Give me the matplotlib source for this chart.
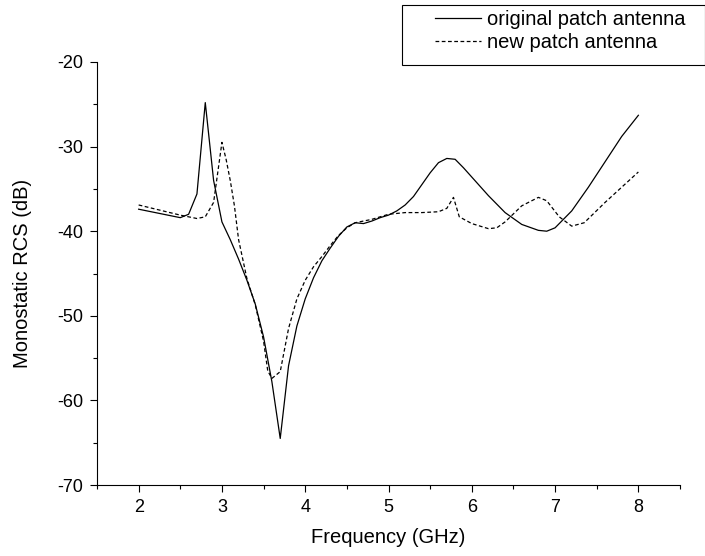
import matplotlib
matplotlib.use('Agg')
import matplotlib.pyplot as plt
from matplotlib.ticker import MultipleLocator
from matplotlib.patches import Rectangle

plt.rcParams['font.family'] = ['Liberation Sans', 'DejaVu Sans']
plt.rcParams['axes.unicode_minus'] = False

# original patch antenna
FREQ_ORIG = [2.0, 2.25, 2.5, 2.6, 2.7, 2.8, 2.9, 3.0, 3.1, 3.2, 3.3, 3.4, 3.5, 3.6,
             3.7, 3.8, 3.9, 4.0, 4.1, 4.2, 4.3, 4.4, 4.5, 4.6, 4.7, 4.8, 4.9, 5.0,
             5.1, 5.2, 5.3, 5.4, 5.5, 5.6, 5.7, 5.8, 5.9, 6.0, 6.2, 6.4, 6.6, 6.8,
             6.9, 7.0, 7.2, 7.4, 7.6, 7.8, 8.0]
RCS_ORIG = [-37.4, -37.9, -38.4, -38.0, -35.6, -24.8, -34.0, -38.9, -41.0, -43.3,
            -45.8, -48.6, -52.5, -57.8, -64.5, -55.9, -51.2, -48.0, -45.5, -43.5,
            -42.0, -40.6, -39.5, -39.0, -39.1, -38.8, -38.4, -38.1, -37.6, -36.9,
            -35.9, -34.5, -33.1, -31.9, -31.4, -31.5, -32.5, -33.6, -35.8, -37.8,
            -39.2, -39.9, -40.0, -39.6, -37.6, -34.8, -31.8, -28.8, -26.3]

# new patch antenna
FREQ_NEW = [2.0, 2.25, 2.5, 2.7, 2.8, 2.9, 3.0, 3.05, 3.1, 3.15, 3.2, 3.3, 3.4, 3.5,
            3.55, 3.6, 3.7, 3.8, 3.9, 4.0, 4.1, 4.2, 4.3, 4.4, 4.5, 4.6, 4.8, 5.0,
            5.2, 5.4, 5.6, 5.7, 5.78, 5.85, 6.0, 6.2, 6.3, 6.4, 6.6, 6.8, 6.9, 7.05,
            7.2, 7.35, 7.6, 7.8, 8.0]
RCS_NEW = [-36.9, -37.5, -38.1, -38.5, -38.3, -36.6, -29.5, -31.5, -34.0, -37.0,
           -41.0, -45.6, -48.7, -53.0, -56.5, -57.4, -56.6, -51.5, -48.0, -45.8,
           -44.2, -43.0, -41.7, -40.5, -39.6, -39.0, -38.6, -38.0, -37.8, -37.8,
           -37.7, -37.3, -36.0, -38.3, -39.1, -39.7, -39.6, -38.9, -37.0, -36.0,
           -36.4, -38.3, -39.4, -39.0, -36.6, -34.8, -33.0]

W, H = 705, 556
fig = plt.figure(figsize=(W / 100, H / 100), dpi=100)
ax = fig.add_axes([97 / W, 1 - 485 / H, 583 / W, 423 / H])

ax.plot(FREQ_ORIG, RCS_ORIG, color='black', linewidth=0.9, label='original patch antenna')
ax.plot(FREQ_NEW, RCS_NEW, color='black', linewidth=0.9, linestyle=(0, (3, 2)),
        label='new patch antenna')

ax.set_xlim(1.5, 8.5)
ax.set_ylim(-70, -20)
ax.xaxis.set_major_locator(MultipleLocator(1))
ax.xaxis.set_minor_locator(MultipleLocator(0.5))
ax.yaxis.set_major_locator(MultipleLocator(10))
ax.yaxis.set_minor_locator(MultipleLocator(5))
ax.spines['top'].set_visible(False)
ax.spines['right'].set_visible(False)
ax.tick_params(which='major', direction='out', length=5, width=0.8, labelsize=13, pad=5)
ax.tick_params(which='minor', direction='out', length=3, width=0.8)

ax.set_xlabel('Frequency (GHz)', fontsize=14.5, labelpad=9)
ax.set_ylabel('Monostatic RCS (dB)', fontsize=14.5, labelpad=18)

# legend box (drawn separately to get the wide left margin)
fig.patches.append(Rectangle((402 / W, 1 - 65 / H), 302.5 / W, 60 / H,
                             transform=fig.transFigure, fill=False,
                             edgecolor='black', linewidth=0.8))
fig.legend(loc='upper left', bbox_to_anchor=(435 / W, 1 - 10 / H), fontsize=14.5,
           frameon=False, handlelength=2.3, handletextpad=0.3,
           borderpad=0, labelspacing=0.2, borderaxespad=0)

fig.savefig('out.png', dpi=100)
